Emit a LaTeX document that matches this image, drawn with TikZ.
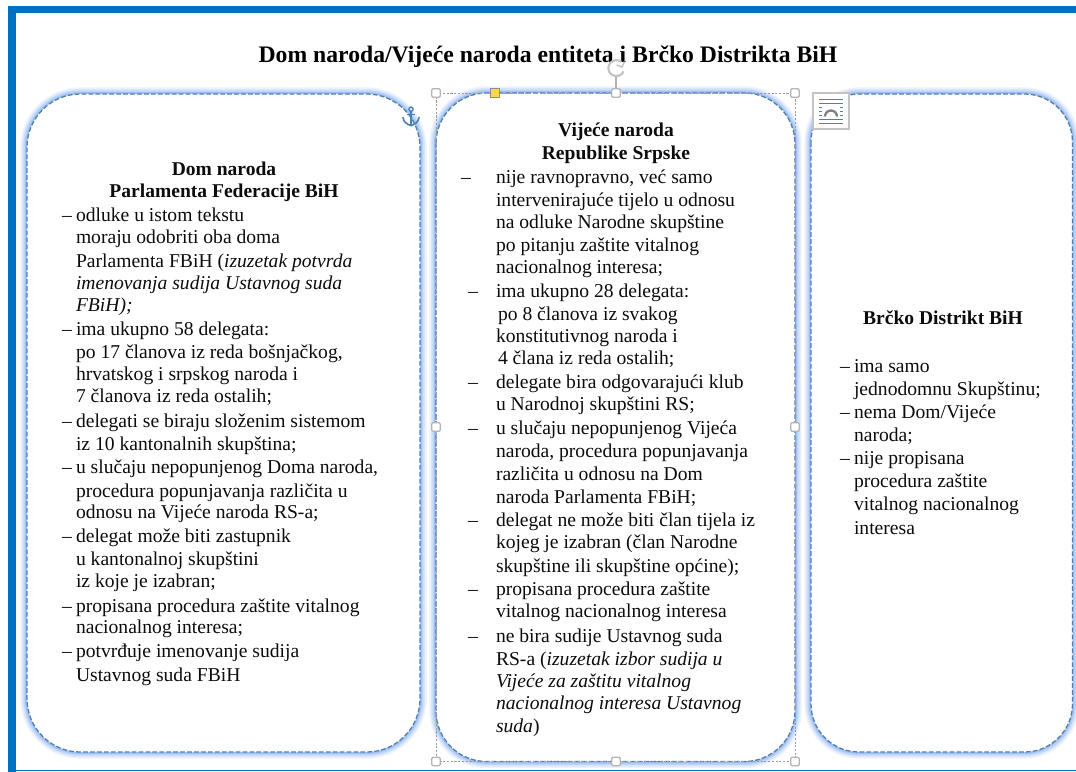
\documentclass[tikz,border=0pt]{standalone}
\usepackage{fontspec}
\setmainfont{Liberation Serif}
\definecolor{frameblue}{HTML}{0070C0}
\definecolor{dashblue}{HTML}{4F7FAE}
\definecolor{glowa}{HTML}{EDF3FD}
\definecolor{glowb}{HTML}{D8E5FB}
\definecolor{glowc}{HTML}{BDD3F8}
\definecolor{glowd}{HTML}{A0C0F4}
\definecolor{handlegray}{HTML}{B4B4B4}
\definecolor{anchorblue}{HTML}{4A80B4}
\definecolor{inktext}{HTML}{0C0C0C}
\tikzset{
  txt/.style={anchor=base west,inner sep=0pt,outer sep=0pt,font=\fontsize{14.7}{17}\selectfont,text=inktext},
  head/.style={anchor=base,inner sep=0pt,outer sep=0pt,font=\fontsize{14.66}{17}\selectfont\bfseries,text=inktext},
  handle/.style={draw=handlegray,line width=0.9pt,fill=white,rounded corners=1pt,minimum size=6.5pt,inner sep=0pt},
  outlinebox/.style={draw=dashblue,line width=0.95pt,dash pattern=on 3.6pt off 1.6pt,fill=white},
}
\newcommand{\glowbox}[3]{%
  \draw[glowa,line width=10pt,rounded corners=#3] #1 rectangle #2;
  \draw[glowb,line width=7.6pt,rounded corners=#3] #1 rectangle #2;
  \draw[glowc,line width=5.2pt,rounded corners=#3] #1 rectangle #2;
  \draw[glowd,line width=2.8pt,rounded corners=#3] #1 rectangle #2;
  \draw[outlinebox,rounded corners=#3] #1 rectangle #2;
}
\begin{document}
\begin{tikzpicture}[x=0.75pt,y=-0.75pt]
\useasboundingbox (0,0) rectangle (1076,772);
\fill[white] (0,0) rectangle (1076,772);
% rounded boxes
\glowbox{(27,94)}{(420,752)}{40pt}
\glowbox{(811,94)}{(1072.5,752)}{36pt}
\glowbox{(436,93)}{(795,761.5)}{38pt}
% page frame
\fill[frameblue] (8,5.5) rectangle (1076,13.3);
\fill[frameblue] (8,5.5) rectangle (15.7,772);
\fill[frameblue] (8,769.8) rectangle (1076,771.2);
% selection frame
\draw[handlegray!85!black,line width=0.5pt,dash pattern=on 1.6pt off 1.2pt] (436,93) rectangle (795,761.5);
% title
\node[anchor=base,inner sep=0pt,font=\fontsize{17.75}{20}\selectfont\bfseries,text=black] (title) at (548,62) {Dom naroda/Vijeće naroda entiteta i Brčko Distrikta BiH};
% headings
\node[head] (h1a) at (224,175) {Dom naroda};
\node[head] (h1b) at (224,197) {Parlamenta Federacije BiH};
\node[head] (h2a) at (616,136) {Vijeće naroda};
\node[head] (h2b) at (616,159) {Republike Srpske};
\node[head] (h3a) at (943,324) {Brčko Distrikt BiH};
% left column
\foreach \x/\y/\t [count=\i] in {
 62/221/{–},76/221/{odluke u istom tekstu},
 76/243/{moraju odobriti oba doma},
 76/267/{Parlamenta FBiH (\textit{izuzetak potvrda}},
 76/289/{\textit{imenovanja sudija Ustavnog suda}},
 76/311/{\textit{FBiH);}},
 62/335/{–},76/335/{ima ukupno 58 delegata:},
 76/358/{po 17 članova iz reda bošnjačkog,},
 76/380/{hrvatskog i srpskog naroda i},
 76/402/{7 članova iz reda ostalih;},
 62/427/{–},76/427/{delegati se biraju složenim sistemom},
 76/450/{iz 10 kantonalnih skupština;},
 62/473/{–},76/473/{u slučaju nepopunjenog Doma naroda,},
 76/497/{procedura popunjavanja različita u},
 76/518/{odnosu na Vijeće naroda RS-a;},
 62/542/{–},76/542/{delegat može biti zastupnik},
 76/565/{u kantonalnoj skupštini},
 76/587/{iz koje je izabran;},
 62/612/{–},76/612/{propisana procedura zaštite vitalnog},
 76/633/{nacionalnog interesa;},
 62/657/{–},76/657/{potvrđuje imenovanje sudija},
 76/681/{Ustavnog suda FBiH}}
 {\node[txt] (l\i) at (\x,\y) {\t};}
% middle column
\foreach \x/\y/\t [count=\i] in {
 461/183/{–},496/183/{nije ravnopravno, već samo},
 496/206/{intervenirajuće tijelo u odnosu},
 496/228/{na odluke Narodne skupštine},
 496/251/{po pitanju zaštite vitalnog},
 496/273/{nacionalnog interesa;},
 468/297/{–},496/297/{ima ukupno 28 delegata:},
 498/320/{po 8 članova iz svakog},
 496/342/{konstitutivnog naroda i},
 498/364/{4 člana iz reda ostalih;},
 468/388/{–},496/388/{delegate bira odgovarajući klub},
 496/410/{u Narodnoj skupštini RS;},
 468/434/{–},496/434/{u slučaju nepopunjenog Vijeća},
 496/457/{naroda, procedura popunjavanja},
 496/480/{različita u odnosu na Dom},
 496/503/{naroda Parlamenta FBiH;},
 468/526/{–},496/526/{delegat ne može biti član tijela iz},
 496/548/{kojeg je izabran (član Narodne},
 496/572/{skupštine ili skupštine općine);},
 468/595/{–},496/595/{propisana procedura zaštite},
 496/617/{vitalnog nacionalnog interesa},
 468/642/{–},496/642/{ne bira sudije Ustavnog suda},
 496/665/{RS-a (\textit{izuzetak izbor sudija u}},
 496/687/{\textit{Vijeće za zaštitu vitalnog}},
 496/709/{\textit{nacionalnog interesa Ustavnog}},
 496/732/{\textit{suda})}}
 {\node[txt] (m\i) at (\x,\y) {\t};}
% right column
\foreach \x/\y/\t [count=\i] in {
 840/372/{–},854/372/{ima samo},
 854/395/{jednodomnu Skupštinu;},
 840/418/{–},854/418/{nema Dom/Vijeće},
 854/441/{naroda;},
 840/464/{–},854/464/{nije propisana},
 854/487/{procedura zaštite},
 854/510/{vitalnog nacionalnog},
 854/534/{interesa}}
 {\node[txt] (r\i) at (\x,\y) {\t};}
% selection handles
\draw[handlegray,line width=0.9pt] (616,93) -- (616,76);
\foreach \p/\q [count=\i] in {436/93,616/93,795/93,436/427,795/427,436/761.5,616/761.5,795/761.5}
  {\node[handle] (hd\i) at (\p,\q) {};}
\node[draw=black!45,line width=0.8pt,fill=yellow!60!orange!70,minimum size=6.5pt,inner sep=0pt] (hy) at (495,93) {};
% rotation handle
\draw[handlegray!80,line width=1.6pt] (621.5,62) arc (-50:-335:8);
\draw[handlegray!80,line width=1.1pt] (616.5,65) -- (622,67) -- (624.5,61.5);
% anchor icon
\begin{scope}[anchorblue,line cap=round]
\draw[line width=1pt] (411,109.2) circle (2.1);
\draw[line width=1.2pt] (411,111.5) -- (411,125.5);
\draw[line width=1.2pt] (403,117.5) .. controls (403.5,122) and (407,124.5) .. (411,125.5) .. controls (415,124.5) and (418.5,122) .. (419,117.5);
\draw[line width=0.9pt] (407.5,114.5) -- (414.5,114.5);
\end{scope}
% layout options icon
\draw[handlegray!80,line width=1.1pt,fill=white] (813,93) rectangle (849,129);
\begin{scope}[anchorblue,line width=0.75pt]
\foreach \yy in {99.5,103.5,119.5,123.5} {\draw (819,\yy) -- (843,\yy);}
\foreach \yy in {107.5,111.5,115.5} {\draw (819,\yy) -- (822,\yy); \draw (840,\yy) -- (843,\yy);}
\end{scope}
\draw[gray,line width=1.7pt] (825,116.5) arc (180:360:6);
\end{tikzpicture}
\end{document}
